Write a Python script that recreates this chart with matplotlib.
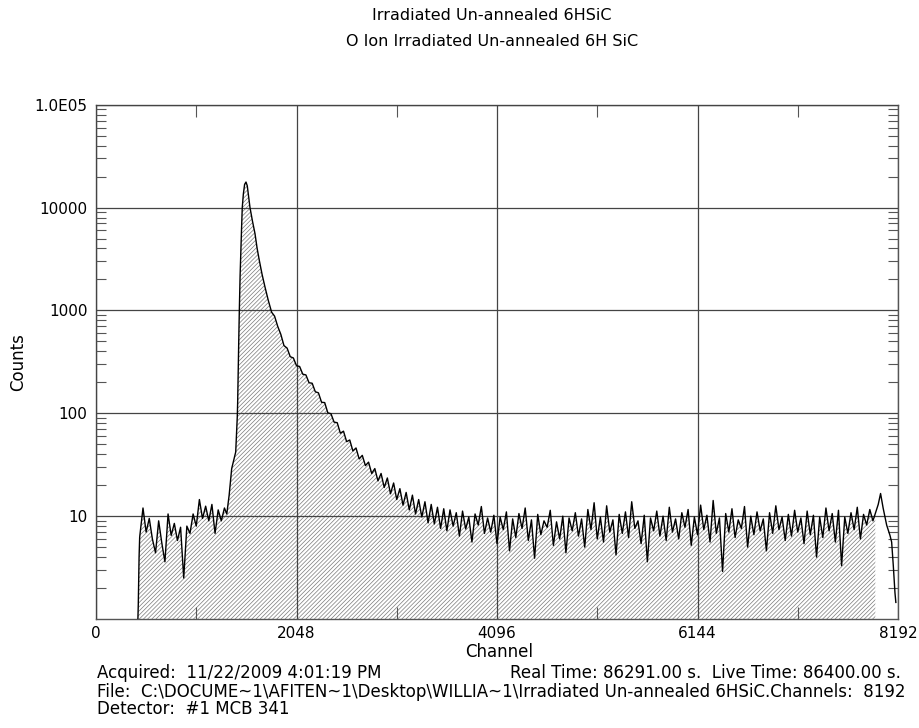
import matplotlib.pyplot as plt
import numpy as np
from matplotlib.ticker import FixedLocator, LogLocator, NullFormatter

plt.rcParams['font.family'] = ['DejaVu Sans']
plt.rcParams['hatch.linewidth'] = 0.5
plt.rcParams['hatch.color'] = '#7a7a7a'

# Title / footer texts
title_1 = 'Irradiated Un-annealed 6HSiC'
title_2 = 'O Ion Irradiated Un-annealed 6H SiC'
acquired = 'Acquired:  11/22/2009 4:01:19 PM'
times = 'Real Time: 86291.00 s.  Live Time: 86400.00 s.'
file_line = 'File:  C:\\DOCUME~1\\AFITEN~1\\Desktop\\WILLIA~1\\Irradiated Un-annealed 6HSiC.Channels:  8192'
detector = 'Detector:  #1 MCB 341'

x_ticks = [0, 2048, 4096, 6144, 8192]
x_minor = [1024, 3072, 5120, 7168]
y_ticks = [10, 100, 1000, 10000, 100000]
y_labels = ['10', '100', '1000', '10000', '1.0E05']

# Spectrum
# start of the spectrum
start_ch = [428, 432, 440, 446]
start_counts = [1.0, 1.4, 4.0, 6.2]

# low-energy background, channels 448..1312 every 32
low_counts = [6.5, 12.0, 7.0, 9.5, 6.0, 4.4, 9.0, 5.5, 3.6, 10.5, 6.5, 8.5, 5.8, 7.8,
              2.5, 8.0, 6.8, 10.5, 8.0, 14.5, 9.5, 12.5, 9.0, 13.0, 6.8, 11.5, 9.0, 12.0]

# the peak
peak_ch = [1336, 1360, 1386, 1410, 1427, 1438, 1443, 1447, 1452, 1458, 1464, 1472, 1480,
           1488, 1494, 1505, 1518, 1532, 1545, 1558, 1573, 1598, 1624, 1646, 1668, 1696,
           1726, 1760, 1794]
peak_counts = [10.5, 16, 29, 36, 42, 70, 92, 128, 250, 500, 1000, 2200, 4000,
               6800, 10000, 13500, 16800, 17700, 16300, 13000, 10000, 7400, 5580, 4000, 3070, 2250,
               1690, 1250, 960]

# tail and flat background, channels 1824..7936 every 32
tail_counts = [
    880, 700, 585, 455, 430, 355, 345, 290, 285, 240, 236, 198, 196, 162, 158, 128,
    127, 101, 99, 82, 81, 64, 67, 53, 55, 43, 46, 36, 39, 31, 33.5, 26,
    29, 22, 26, 19, 23.5, 16.5, 21, 14.5, 18.5, 12.8, 17.0, 11.5, 16.0, 10.5,
    14.5, 9.8, 13.8, 8.6, 13.0, 8.4, 12.2, 7.6, 11.8,
]
flat_counts = [
    7.2, 11.5, 8.0, 10.8, 6.4, 11.2, 7.5, 9.8, 5.6, 10.5, 8.2, 12.4, 6.8, 9.6, 7.0, 10.2,
    5.4, 9.8, 7.4, 11.0, 4.6, 9.4, 6.2, 10.6, 7.6, 12.0, 5.8, 9.2, 3.9, 10.4, 6.6, 9.0,
    7.8, 11.4, 5.2, 8.8, 6.0, 10.0, 4.4, 9.6, 7.2, 10.8, 6.4, 9.4, 5.0, 11.6, 7.4, 13.5,
    6.0, 9.8, 5.6, 12.6, 7.0, 9.2, 4.2, 10.4, 6.8, 11.0, 6.2, 13.8, 7.6, 9.0, 5.4, 10.2,
    3.6, 9.6, 7.2, 11.2, 6.4, 10.0, 5.8, 12.2, 7.0, 9.4, 6.0, 10.8, 7.8, 11.6, 5.2, 9.8,
    6.6, 12.8, 7.4, 10.2, 5.6, 14.2, 6.8, 9.6, 2.9, 10.6, 7.0, 11.8, 6.2, 9.2, 7.6, 12.4,
    5.0, 10.0, 6.6, 11.0, 7.2, 9.4, 4.6, 10.8, 6.8, 12.6, 7.4, 9.8, 5.8, 10.4, 6.4, 11.4,
    7.0, 9.6, 5.4, 11.2, 6.6, 10.2, 4.0, 9.8, 6.2, 12.0, 7.2, 10.6, 5.6, 11.4, 3.3, 9.8,
    6.8, 10.8, 7.4, 12.2, 6.0, 10.4, 8.2, 11.6, 9.0,
]

# end of the spectrum
end_ch = [7960, 7990, 8014, 8040, 8076, 8110, 8127, 8144, 8161, 8170]
end_counts = [10.6, 13.0, 16.6, 12.0, 8.2, 6.5, 5.6, 3.3, 1.8, 1.45]

roi_end = 7960  # hatched region stops here

low_ch = np.arange(448, 448 + 32 * len(low_counts), 32)
back_counts = tail_counts + flat_counts
back_ch = np.arange(1824, 1824 + 32 * len(back_counts), 32)

channels = np.concatenate([start_ch, low_ch, peak_ch, back_ch, end_ch])
counts = np.concatenate([start_counts, low_counts, peak_counts, back_counts, end_counts])

fig = plt.figure(figsize=(9.19, 7.28), dpi=100)
W, H = 919, 728
ax = fig.add_axes([96 / W, 1 - 619 / H, 802 / W, 514.3 / H])

# hatched area under the spectrum
roi = channels <= roi_end
ax.fill_between(channels[roi], 0.1, counts[roi], facecolor='white', edgecolor='#7a7a7a',
                hatch='////////', linewidth=0, zorder=1)
ax.plot(channels, counts, color='black', linewidth=1.0, zorder=3)

ax.set_yscale('log')
ax.set_xlim(0, 8192)
ax.set_ylim(1, 1e5)

ax.set_xticks(x_ticks)
ax.set_xticklabels([str(t) for t in x_ticks])
ax.xaxis.set_minor_locator(FixedLocator(x_minor))
ax.set_yticks(y_ticks)
ax.set_yticklabels(y_labels)
ax.yaxis.set_minor_locator(LogLocator(base=10, subs=np.arange(2, 10)))
ax.yaxis.set_minor_formatter(NullFormatter())

ax.tick_params(axis='both', which='major', length=0, labelsize=11, colors='black')
ax.tick_params(axis='x', which='major', pad=5)
ax.tick_params(axis='y', which='major', pad=6)
ax.tick_params(axis='x', which='minor', direction='in', length=8.6, width=0.8,
               top=True, bottom=True, color='#555555')
ax.tick_params(axis='y', which='minor', direction='in', length=7, width=0.8,
               left=True, right=True, color='#555555')

# grid at the major ticks
ax.grid(True, which='major', color='#444444', linewidth=0.9)
ax.set_axisbelow(False)
for sp in ax.spines.values():
    sp.set_color('#555555')
    sp.set_linewidth(1.0)

# titles, axis names and footer
fig.text(492 / W, 1 - 16 / H, title_1, ha='center', va='center', fontsize=11.5)
fig.text(492 / W, 1 - 41.5 / H, title_2, ha='center', va='center', fontsize=11.5)
fig.text(18 / W, 1 - 362 / H, 'Counts', rotation=90, ha='center', va='center', fontsize=12)
fig.text(499 / W, 1 - 652 / H, 'Channel', ha='center', va='center', fontsize=12)
fig.text(96.7 / W, 1 - 673.5 / H, acquired, ha='left', va='center', fontsize=12)
fig.text(901 / W, 1 - 673.5 / H, times, ha='right', va='center', fontsize=12)
fig.text(96.7 / W, 1 - 692 / H, file_line, ha='left', va='center', fontsize=12)
fig.text(96.7 / W, 1 - 709.5 / H, detector, ha='left', va='center', fontsize=12)

plt.savefig('out.png', dpi=100)
